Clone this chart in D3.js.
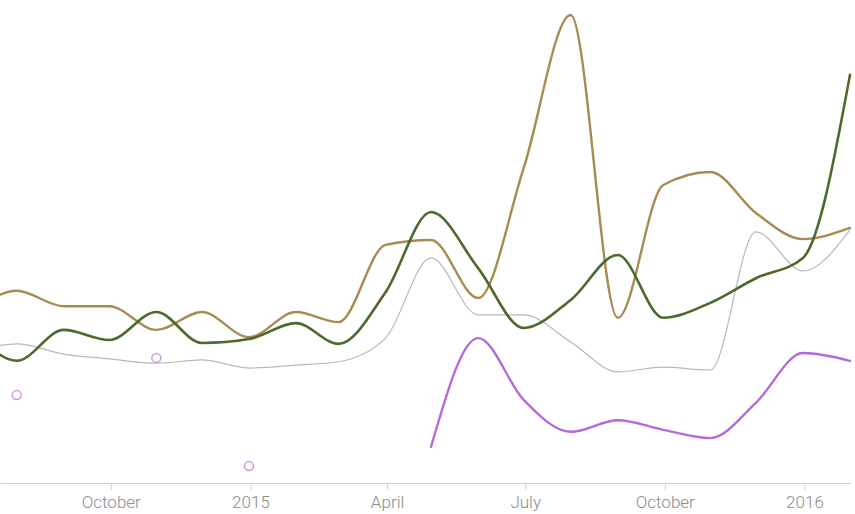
<!DOCTYPE html>
<html>
<head>
<meta charset="utf-8">
<script src="https://cdn.jsdelivr.net/npm/d3@7"></script>
<style>
  html, body { margin: 0; padding: 0; background: #fff; }
  svg { display: block; }
  .axis text { font-family: Roboto, "Open Sans", sans-serif; font-weight: 300; font-size: 17px; fill: #8c8c8c; }
  .axis path, .axis line { stroke: #cfcfcf; }
</style>
</head>
<body>
<svg id="chart" width="855" height="514"></svg>
<script>
// month-end observation dates
const dates = ["2014-06-30","2014-07-31","2014-08-31","2014-09-30","2014-10-31","2014-11-30","2014-12-31",
  "2015-01-31","2015-02-28","2015-03-31","2015-04-30","2015-05-31","2015-06-30","2015-07-31","2015-08-31",
  "2015-09-30","2015-10-31","2015-11-30","2015-12-31","2016-01-31"];

const brownValues = [34.8,39.8,36.6,36.6,31.7,35.4,30.2,35.4,33.3,49.3,50.3,38.3,65.2,96.9,34.2,61.7,64.4,55.9,50.5,52.8];
const greenValues = [32.7,25.3,31.7,29.6,35.4,29.0,29.8,33.1,28.8,39.5,56.1,44.5,32.1,37.9,47.2,34.2,37.3,42.4,46.6,84.5];
const grayValues  = [27.1,28.8,26.7,25.7,24.8,25.5,23.8,24.4,25.1,30.0,46.6,34.8,34.8,29.2,23.0,24.0,23.4,52.0,43.9,52.4];
const purpleValues = [null,18.2,null,null,25.9,null,3.5,null,null,null,7.5,30.0,17.2,10.6,13.0,11.0,9.3,16.6,26.9,25.3];

const tickDates = ["2014-10-01","2015-01-01","2015-04-01","2015-07-01","2015-10-01","2016-01-01"];
const tickLabels = ["October","2015","April","July","October","2016"];

const series = [
  {name: "gray", values: grayValues, color: "#b8b8b8", width: 1.2},
  {name: "brown", values: brownValues, color: "#a88a52", width: 2.4},
  {name: "green", values: greenValues, color: "#4a6a2e", width: 2.6},
  {name: "purple", values: purpleValues, color: "#b66ad8", width: 2.4}
];

const parse = d3.timeParse("%Y-%m-%d");
const X = dates.map(parse);

const svg = d3.select("#chart");
const axisY = 483;

const x = d3.scaleTime()
  .domain([parse("2014-07-20"), parse("2016-01-31")])
  .range([0, 850]);
const y = d3.scaleLinear().domain([0, 100]).range([axisY, 0]);

// axis
const axis = d3.axisBottom(x)
  .tickValues(tickDates.map(parse))
  .tickFormat((d, i) => tickLabels[i])
  .tickSize(7)
  .tickSizeOuter(0)
  .tickPadding(6);
svg.append("g").attr("class", "axis").attr("transform", `translate(0,${axisY})`).call(axis);

const line = d3.line()
  .defined(d => d.v != null)
  .x(d => x(d.t))
  .y(d => y(d.v))
  .curve(d3.curveMonotoneX);

series.forEach(s => {
  const pts = X.map((t, i) => ({t, v: s.values[i]}));
  svg.append("path")
    .datum(pts)
    .attr("fill", "none")
    .attr("stroke", s.color)
    .attr("stroke-width", s.width)
    .attr("stroke-linejoin", "round")
    .attr("stroke-linecap", "round")
    .attr("d", line);
  // isolated points as circles
  const iso = pts.filter((p, i) => p.v != null &&
    (i === 0 || pts[i - 1].v == null) && (i === pts.length - 1 || pts[i + 1].v == null));
  svg.selectAll(null).data(iso).enter().append("circle")
    .attr("cx", d => x(d.t))
    .attr("cy", d => y(d.v))
    .attr("r", 4.5)
    .attr("fill", "#fff")
    .attr("stroke", "#c79ade")
    .attr("stroke-width", 1.5);
});
</script>
</body>
</html>
